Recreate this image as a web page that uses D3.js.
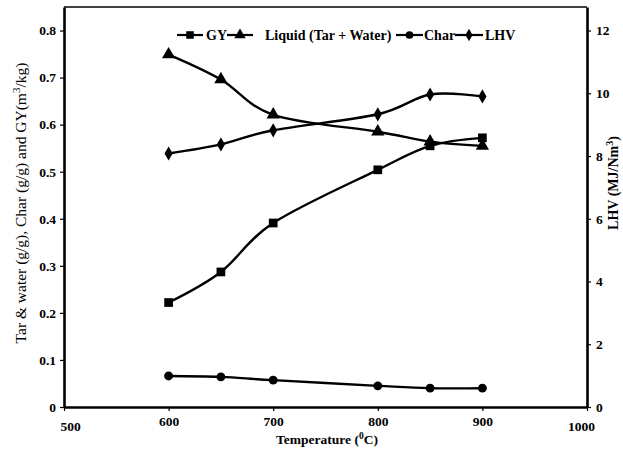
<!DOCTYPE html>
<html>
<head>
<meta charset="utf-8">
<script src="https://cdn.jsdelivr.net/npm/d3@7"></script>
<style>
  body { margin: 0; background: #fff; }
  svg { display: block; font-family: "Liberation Serif", "Times New Roman", serif; }
</style>
</head>
<body>
<svg id="chart" width="623" height="451"></svg>
<script>
// values
const temps = [600, 650, 700, 800, 850, 900];
const gy = [0.222, 0.287, 0.391, 0.504, 0.555, 0.572];
const liquid = [0.749, 0.696, 0.621, 0.585, 0.564, 0.555];
const charYield = [0.066, 0.064, 0.057, 0.045, 0.040, 0.040];
const lhv = [8.08, 8.37, 8.82, 9.33, 9.96, 9.90];

const xTicks = [500, 600, 700, 800, 900, 1000];
const leftTicks = [0, 0.1, 0.2, 0.3, 0.4, 0.5, 0.6, 0.7, 0.8];
const rightTicks = [0, 2, 4, 6, 8, 10, 12];

const svg = d3.select("#chart");
const m = {left: 64, right: 587, top: 7, bottom: 407};

const x = d3.scaleLinear().domain([500, 1000]).range([m.left, m.right]);
const yL = d3.scaleLinear().domain([0, 0.85]).range([m.bottom, m.top]);
const yR = d3.scaleLinear().domain([0, 12.75]).range([m.bottom, m.top]);

// top frame line
svg.append("line")
    .attr("x1", m.left).attr("x2", m.right)
    .attr("y1", m.top).attr("y2", m.top)
    .attr("stroke", "#000").attr("stroke-width", 1.5);

const styleAxis = (g) => {
    g.select(".domain").attr("stroke-width", 2.6);
    g.selectAll(".tick line").attr("stroke-width", 1.2);
    g.selectAll("text").attr("font-size", 13.5).attr("font-weight", "bold")
        .attr("font-family", "'Liberation Serif', serif").attr("fill", "#000");
};

const xAxis = svg.append("g")
    .attr("transform", `translate(0,${m.bottom})`)
    .call(d3.axisBottom(x).tickValues(xTicks).tickSize(4).tickSizeOuter(0).tickPadding(6)
        .tickFormat(d3.format("d")))
    .call(styleAxis);
// end labels sit a little lower, first one nudged right
xAxis.selectAll(".tick text")
    .attr("dy", d => (d === 500 || d === 1000) ? "1.0em" : "0.7em")
    .attr("dx", d => d === 500 ? 6 : (d === 1000 ? -6 : 0));

svg.append("g")
    .attr("transform", `translate(${m.left},0)`)
    .call(d3.axisLeft(yL).tickValues(leftTicks).tickSize(4).tickSizeOuter(0).tickPadding(4)
        .tickFormat(d => d === 0 ? "0" : d3.format(".1f")(d)))
    .call(styleAxis);

svg.append("g")
    .attr("transform", `translate(${m.right},0)`)
    .call(d3.axisRight(yR).tickValues(rightTicks).tickSize(4).tickSizeOuter(0).tickPadding(5))
    .call(styleAxis);

// axis titles
const xt = svg.append("text")
    .attr("x", 327).attr("y", 444)
    .attr("text-anchor", "middle")
    .attr("font-size", 13.5).attr("font-weight", "bold");
xt.append("tspan").text("Temperature (");
xt.append("tspan").attr("font-size", 9.5).attr("dy", -5).text("0");
xt.append("tspan").attr("dy", 5).text("C)");

const yt = svg.append("text")
    .attr("transform", "translate(26,203) rotate(-90)")
    .attr("text-anchor", "middle")
    .attr("font-size", 15.5);
yt.append("tspan").text("Tar & water (g/g), Char (g/g) and GY(m");
yt.append("tspan").attr("font-size", 11).attr("dy", -6).text("3");
yt.append("tspan").attr("dy", 6).text("/kg)");

const rt = svg.append("text")
    .attr("transform", "translate(618,183) rotate(-90)")
    .attr("text-anchor", "middle")
    .attr("font-size", 14).attr("font-weight", "bold");
rt.append("tspan").text("LHV (MJ/Nm");
rt.append("tspan").attr("font-size", 10).attr("dy", -5).text("3");
rt.append("tspan").attr("dy", 5).text(")");

// series
const series = [
    {name: "GY", values: gy, scale: yL, symbol: d3.symbolSquare, size: 76},
    {name: "Liquid (Tar + Water)", values: liquid, scale: yL, symbol: d3.symbolTriangle, size: 76},
    {name: "Char", values: charYield, scale: yL, symbol: d3.symbolCircle, size: 62},
    {name: "LHV", values: lhv, scale: yR, symbol: d3.symbolDiamond, size: 58}
];

const line = d3.line().curve(d3.curveCardinal.tension(0));

series.forEach(s => {
    const pts = temps.map((t, i) => [x(t), s.scale(s.values[i])]);
    svg.append("path")
        .attr("d", line(pts))
        .attr("fill", "none").attr("stroke", "#000").attr("stroke-width", 2.4);
    svg.append("g").selectAll("path")
        .data(pts)
        .enter()
        .append("path")
        .attr("transform", d => `translate(${d[0]},${d[1]})`)
        .attr("d", d3.symbol().type(s.symbol).size(s.size))
        .attr("fill", "#000");
});

// legend
const legendItems = [
    {x1: 177, x2: 203, tx: 206},
    {x1: 227, x2: 253, tx: 265},
    {x1: 396, x2: 423, tx: 424},
    {x1: 455, x2: 483, tx: 485}
];
const legY = 35;
const leg = svg.append("g");
series.forEach((s, i) => {
    const it = legendItems[i];
    leg.append("line")
        .attr("x1", it.x1).attr("x2", it.x2)
        .attr("y1", legY).attr("y2", legY)
        .attr("stroke", "#000").attr("stroke-width", 2.2);
    leg.append("path")
        .attr("transform", `translate(${(it.x1 + it.x2) / 2},${legY})`)
        .attr("d", d3.symbol().type(s.symbol).size(s.size * 0.75))
        .attr("fill", "#000");
    leg.append("text")
        .attr("x", it.tx).attr("y", legY + 5)
        .attr("font-size", 14).attr("font-weight", "bold")
        .text(s.name);
});
</script>
</body>
</html>
